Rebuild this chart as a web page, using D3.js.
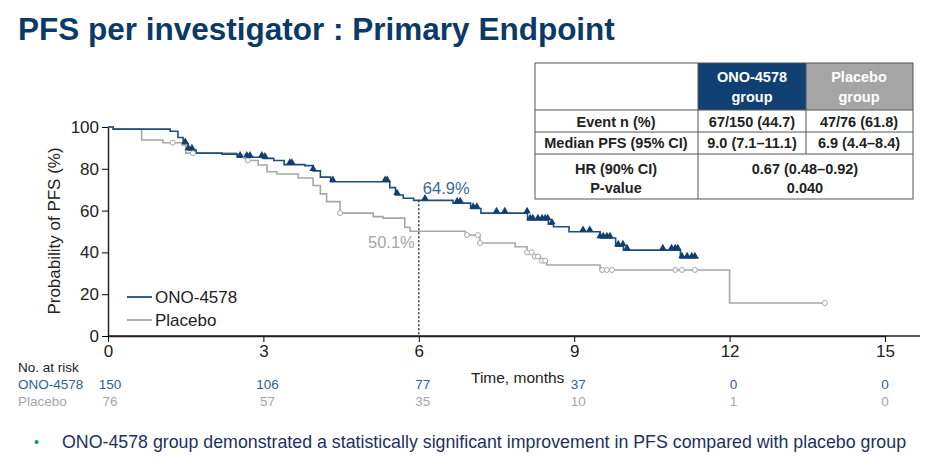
<!DOCTYPE html>
<html><head><meta charset="utf-8">
<script src="https://cdn.jsdelivr.net/npm/d3@7"></script>
<style>body{margin:0;background:#fff;font-family:Arial,"Liberation Sans",sans-serif}</style>
</head><body><svg id="c" width="936" height="474"></svg>
<script>
const onoSteps=[[0,100],[0.1,99],[1.2,98],[1.35,95],[1.45,92],[1.55,89],[1.7,87.5],[2.2,87],[2.5,85.5],[3.0,85],[3.2,84],[3.4,82],[3.8,81.5],[3.96,79],[4.1,76],[4.3,73.8],[5.44,71],[5.55,67.5],[5.7,65.9],[5.9,64.9],[6.66,63.6],[7.0,61],[7.2,58.8],[8.1,55.5],[8.5,53.5],[8.6,52.3],[8.9,49.9],[9.5,46.9],[9.8,43],[9.95,41.1],[11.05,37.3]];
const onoEnd=11.4;
const onoCens=[1.49,1.55,1.62,2.55,2.68,2.74,2.97,3.03,3.51,3.55,3.96,4.34,5.35,5.39,5.58,6.12,6.74,6.8,7.05,7.12,7.5,7.66,8.09,8.15,8.2,8.3,8.38,8.44,8.49,8.57,9.17,9.3,9.5,9.56,9.63,9.69,9.85,9.94,10.02,10.71,10.88,10.95,11.0,11.08,11.18,11.27,11.33];
const plaSteps=[[0,100],[0.1,99],[0.65,93.8],[1.06,92.5],[1.43,91.4],[1.5,87.5],[2.48,86],[2.7,84],[2.9,81.8],[3.07,78.6],[3.26,77.5],[3.67,75.6],[3.96,72],[4.1,68],[4.22,64.3],[4.48,58.8],[5.12,57.1],[5.31,56.4],[5.73,52],[5.83,50.1],[6.9,48.3],[7.18,44.5],[7.86,42.7],[8.09,40],[8.2,38],[8.35,36],[8.47,34],[9.5,31.6],[12.0,15.8]];
const plaEnd=13.84;
const plaCens=[1.25,1.64,2.64,2.7,4.48,6.93,7.14,7.18,8.09,8.18,8.24,8.3,8.38,8.44,9.54,9.63,9.73,10.95,11.08,11.33,13.84];
const xTicks=[0,3,6,9,12,15];
const yTicks=[0,20,40,60,80,100];
const riskOno=[150,106,77,37,0,0];
const riskPla=[76,57,35,10,1,0];
const NAVY="#1d4e7e", GREY="#a6a6a6";
const svg=d3.select("#c");
const x=d3.scaleLinear().domain([0,15]).range([108,885]);
const y=d3.scaleLinear().domain([0,100]).range([336,127]);
svg.append("text").attr("x",18).attr("y",40).attr("fill","#0b3a68").attr("font-size",31.5).attr("font-weight","bold").text("PFS per investigator : Primary Endpoint");
const xa=svg.append("g").attr("transform","translate(0,336)").call(d3.axisBottom(x).tickValues(xTicks).tickSize(6).tickSizeOuter(0));
xa.select(".domain").attr("stroke","#222").attr("stroke-width",1.5);
xa.selectAll("text").attr("font-size",17).attr("font-family","Arial").attr("fill","#222");
svg.append("line").attr("x1",108).attr("x2",920).attr("y1",336).attr("y2",336).attr("stroke","#222").attr("stroke-width",1.5);
const ya=svg.append("g").attr("transform","translate(108,0)").call(d3.axisLeft(y).tickValues(yTicks).tickSize(6).tickSizeOuter(0));
ya.select(".domain").attr("stroke","#222").attr("stroke-width",1.5);
ya.selectAll("text").attr("font-size",17).attr("font-family","Arial").attr("fill","#222");
svg.append("text").attr("transform","translate(60,231) rotate(-90)").attr("text-anchor","middle").attr("font-size",17).attr("fill","#222").text("Probability of PFS (%)");
svg.append("text").attr("x",471).attr("y",383).attr("font-size",15.5).attr("fill","#222").text("Time, months");
svg.append("line").attr("x1",x(6)).attr("x2",x(6)).attr("y1",y(64.9)).attr("y2",336).attr("stroke","#222").attr("stroke-dasharray","2,2").attr("stroke-width",1.3);
svg.append("text").attr("x",x(6)+4).attr("y",y(64.9)-6).attr("font-size",16.5).attr("fill","#3a6a9a").text("64.9%");
svg.append("text").attr("x",x(6)-4).attr("y",y(50.1)+17).attr("text-anchor","end").attr("font-size",16.5).attr("fill",GREY).text("50.1%");
function surv(steps,t){let s=100;for(const p of steps){if(p[0]<=t)s=p[1];}return s;}
function drawCurve(steps,end,col){
  const pts=steps.concat([[end,steps[steps.length-1][1]]]);
  svg.append("path").attr("d",d3.line().x(d=>x(d[0])).y(d=>y(d[1])).curve(d3.curveStepAfter)(pts)).attr("fill","none").attr("stroke",col).attr("stroke-width",1.6);
}
drawCurve(plaSteps,plaEnd,GREY);
drawCurve(onoSteps,onoEnd,NAVY);
svg.append("g").selectAll("circle").data(plaCens).join("circle").attr("cx",d=>x(d)).attr("cy",d=>y(surv(plaSteps,d))).attr("r",2.5).attr("fill","#fff").attr("stroke",GREY).attr("stroke-width",1);
svg.append("g").selectAll("path").data(onoCens).join("path").attr("d",d3.symbol(d3.symbolTriangle,24)).attr("transform",d=>`translate(${x(d)},${y(surv(onoSteps,d))-2})`).attr("fill","#0f3f6e");
[["ONO-4578",NAVY,297],["Placebo",GREY,320]].forEach(([t,c,yy])=>{
  svg.append("line").attr("x1",127).attr("x2",152).attr("y1",yy).attr("y2",yy).attr("stroke",c).attr("stroke-width",1.8);
  svg.append("text").attr("x",155).attr("y",yy+6).attr("font-size",17).attr("fill","#222").text(t);
});
svg.append("text").attr("x",18).attr("y",372).attr("font-size",13.5).attr("fill","#222").text("No. at risk");
svg.append("text").attr("x",18).attr("y",389).attr("font-size",13.5).attr("fill","#2f5f8f").text("ONO-4578");
svg.append("text").attr("x",18).attr("y",406).attr("font-size",13.5).attr("fill",GREY).text("Placebo");
xTicks.forEach((t,i)=>{
  const xx=t===0?110:x(t)+(t===15?0:4);
  svg.append("text").attr("x",xx).attr("y",389).attr("text-anchor","middle").attr("font-size",13.5).attr("fill","#2f5f8f").text(riskOno[i]);
  svg.append("text").attr("x",xx).attr("y",406).attr("text-anchor","middle").attr("font-size",13.5).attr("fill",GREY).text(riskPla[i]);
});
const tg=svg.append("g");
tg.append("rect").attr("x",698).attr("y",63).attr("width",108).attr("height",47).attr("fill","#0f3f73");
tg.append("rect").attr("x",806).attr("y",63).attr("width",107).attr("height",47).attr("fill","#a5a5a5");
tg.append("rect").attr("x",535).attr("y",63).attr("width",378).attr("height",136).attr("fill","none").attr("stroke","#555").attr("stroke-width",1);
[110,132,154].forEach(r=>tg.append("line").attr("x1",535).attr("x2",913).attr("y1",r).attr("y2",r).attr("stroke","#555"));
tg.append("line").attr("x1",698).attr("x2",698).attr("y1",63).attr("y2",199).attr("stroke","#555");
tg.append("line").attr("x1",806).attr("x2",806).attr("y1",63).attr("y2",154).attr("stroke","#555");
const cell=(t,cx,cy,col)=>tg.append("text").attr("x",cx).attr("y",cy).attr("text-anchor","middle").attr("font-size",14.5).attr("font-weight","bold").attr("fill",col||"#222").text(t);
cell("ONO-4578",752,82,"#fff");cell("group",752,102,"#fff");
cell("Placebo",859,82,"#fff");cell("group",859,102,"#fff");
cell("Event n (%)",616,127);cell("67/150 (44.7)",752,127);cell("47/76 (61.8)",859,127);
cell("Median PFS (95% CI)",616,148);cell("9.0 (7.1–11.1)",752,148);cell("6.9 (4.4–8.4)",859,148);
cell("HR (90% CI)",616,174);cell("P-value",616,193);
cell("0.67 (0.48–0.92)",805,174);cell("0.040",805,193);
svg.append("text").attr("x",34).attr("y",447).attr("font-size",14).attr("fill","#1a8a8a").text("•");
svg.append("text").attr("x",62).attr("y",448).attr("font-size",17.8).attr("fill","#1f2f5f").text("ONO-4578 group demonstrated a statistically significant improvement in PFS compared with placebo group");
</script></body></html>
